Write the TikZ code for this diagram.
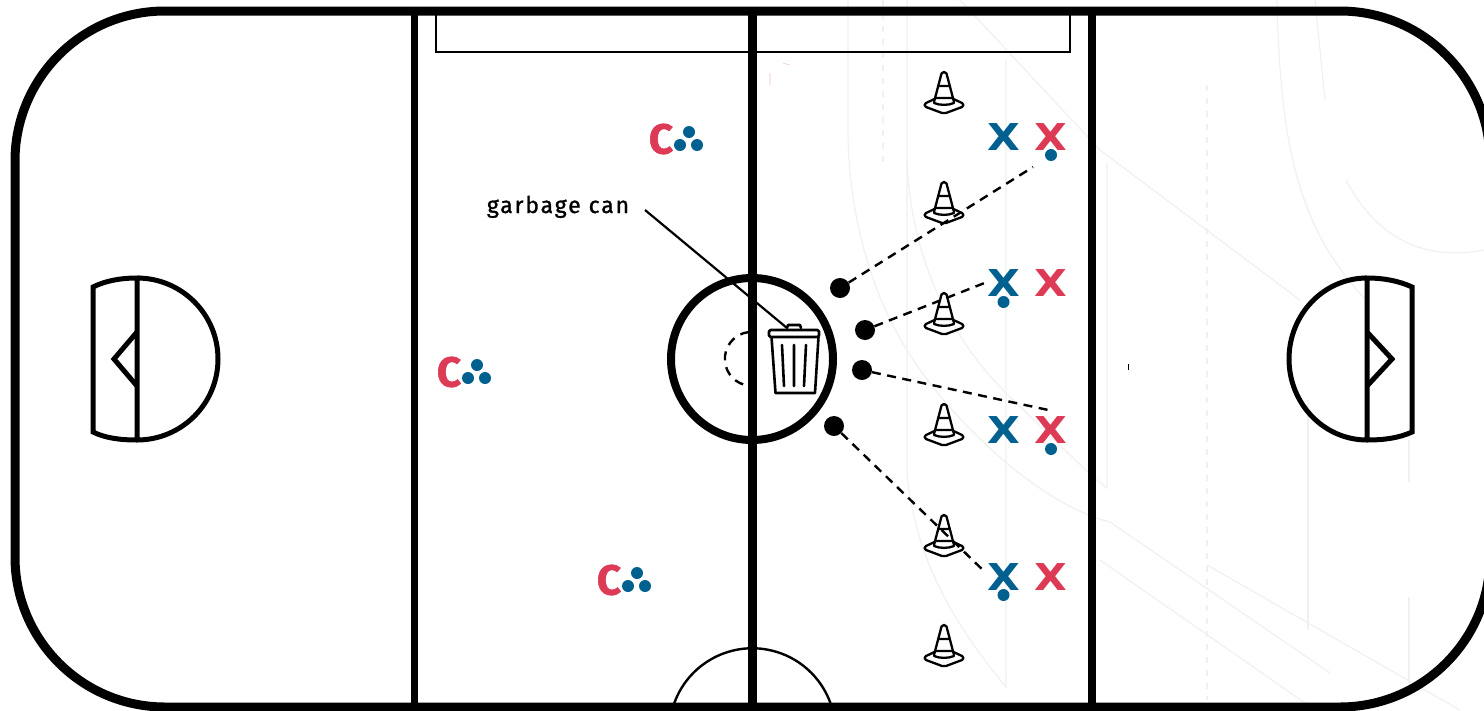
\documentclass[tikz,border=0pt]{standalone}
\usepackage{fontspec}
\setmainfont{Fira Sans}
\newfontfamily\xmarkfont{DejaVu Sans}
\newfontfamily\labfont[LetterSpace=8,FakeBold=1.2]{Fira Sans}
\newfontfamily\coachfont[FakeBold=1.5]{Fira Sans}
\usetikzlibrary{calc}
\definecolor{pblue}{HTML}{00608F}
\definecolor{pred}{HTML}{DC3A55}
\definecolor{faint}{HTML}{F0F0F0}
\tikzset{
  rinkline/.style={draw=black,line width=#1},
  faintline/.style={draw=faint,line width=1.2pt},
  faintdash/.style={draw=faint,line width=1.2pt,dash pattern=on 6pt off 7pt},
  playerx/.style={text=#1,inner sep=0pt,font=\xmarkfont\bfseries\fontsize{37}{37}\selectfont},
  coach/.style={text=pred,inner sep=0pt,font=\coachfont\bfseries\fontsize{42}{42}\selectfont},
  puck/.style={circle,fill=pblue,inner sep=0pt,minimum size=12pt},
  skater/.style={circle,fill=black,inner sep=0pt,minimum size=20pt},
  passline/.style={draw=black,line width=2.4pt,dash pattern=on 9pt off 6.5pt},
  conepic/.pic={
    \draw[black,line width=2.3pt,line join=round,line cap=round,fill=white]
      (-10,30) -- (-2.5,1.5) .. controls (-1.5,-.6) and (1.5,-.6) .. (2.5,1.5) -- (10,30);
    \draw[black,line width=2.3pt,line join=round,line cap=round]
      (-5.5,14) -- (5.5,14) (-8,26) -- (8,26)
      (-10,31) .. controls (-4,33.5) and (4,33.5) .. (10,31)
      (-9.5,27) -- (-18,31) .. controls (-20,32) and (-20,34) .. (-18,35) -- (-2,41) .. controls (-.5,41.5) and (.5,41.5) .. (2,41) -- (18,35) .. controls (20,34) and (20,32) .. (18,31) -- (9.5,27);
  }
}
\begin{document}
\begin{tikzpicture}[x=1pt,y=-1pt]
\useasboundingbox (0,0) rectangle (1484,710);
% faint background marks
\begin{scope}[faintline]
\draw (848,0) -- (848,130) .. controls (848,220) and (875,300) .. (907,350) .. controls (950,420) and (1040,505) .. (1110,522) -- (1330,673);
\draw (907,0) -- (907,473) .. controls (915,560) and (955,625) .. (1006,687) -- (1006,60);
\draw (907,163) .. controls (912,260) and (950,340) .. (1013,400) -- (1093,477) -- (1107,488) -- (1107,163);
\draw (960,0) -- (1100,150) -- (1300,300);
\draw (1277,0) .. controls (1280,150) and (1300,230) .. (1366,300);
\draw (1315,0) -- (1325,100);
\draw (1346,180) .. controls (1375,235) and (1420,262) .. (1484,250);
\draw (1100,560) -- (1315,710);
\draw (1207,565) -- (1460,710);
\draw (1308,400) -- (1308,630);
\draw (1409,440) -- (1409,482) (1409,597) -- (1409,690);
\end{scope}
\draw[faintdash] (1207,85) -- (1207,700);
\draw[faintdash] (883,0) -- (883,162);
% rink
\draw[rinkline=9pt] (165,11) -- (1340,11) arc[start angle=-90,end angle=0,radius=150] -- (1490,557) arc[start angle=0,end angle=90,radius=150] -- (165,707) arc[start angle=90,end angle=180,radius=150] -- (15,161) arc[start angle=180,end angle=270,radius=150] -- cycle;
\draw[rinkline=7pt] (414,11) -- (414,707);
\draw[rinkline=9pt] (752.5,11) -- (752.5,707);
\draw[rinkline=8pt] (1092,11) -- (1092,707);
\draw[rinkline=2.4pt] (436,11) -- (436,52) -- (1070,52) -- (1070,11);
\draw[rinkline=8pt] (752,359) circle[radius=81];
\draw[rinkline=2.4pt] (673,707) arc[start angle=197,end angle=343,radius=83];
\draw[black,line width=2.4pt,dash pattern=on 9pt off 7pt] (749,332) arc[start angle=-96,end angle=-264,radius=27];
% end zones
\draw[rinkline=5pt,line join=miter] (137,278) arc[start angle=-90,end angle=90,radius=81] .. controls (120,440) and (105,438) .. (93,432) -- (93,287) .. controls (105,281) and (120,278) .. (137,278) -- (137,440);
\draw[rinkline=5pt] (137,332) -- (114,359) -- (137,386);
\draw[rinkline=5pt,line join=miter] (1367,278) arc[start angle=-90,end angle=-270,x radius=78,y radius=81] .. controls (1384,440) and (1399,438) .. (1412,432) -- (1412,287) .. controls (1399,281) and (1384,278) .. (1367,278) -- (1367,440);
\draw[rinkline=5pt] (1367,332) -- (1392,359) -- (1367,386);
% cones
\foreach \nm/\cy in {1/72,2/182,3/293,4/404,5/515,6/625}
  \pic (cone\nm) at (944,\cy) {conepic};
% players
\node[playerx=pblue] (b1) at (1003.5,137) {\scalebox{1.15}[1]{X}};
\node[playerx=pred] (r1) at (1050.5,137) {\scalebox{1.15}[1]{X}};
\node[playerx=pblue] (b2) at (1003.5,283.5) {\scalebox{1.15}[1]{X}};
\node[playerx=pred] (r2) at (1050.5,283.5) {\scalebox{1.15}[1]{X}};
\node[playerx=pblue] (b3) at (1003.5,430) {\scalebox{1.15}[1]{X}};
\node[playerx=pred] (r3) at (1050.5,430) {\scalebox{1.15}[1]{X}};
\node[playerx=pblue] (b4) at (1003.5,577) {\scalebox{1.15}[1]{X}};
\node[playerx=pred] (r4) at (1050.5,577) {\scalebox{1.15}[1]{X}};
\node[puck] (p1) at (1051,155) {};
\node[puck] (p2) at (1003.5,302) {};
\node[puck] (p3) at (1051,449) {};
\node[puck] (p4) at (1003.5,595) {};
% skaters
\node[skater] (s1) at (840,288) {};
\node[skater] (s2) at (865,330) {};
\node[skater] (s3) at (862,370) {};
\node[skater] (s4) at (834,426) {};
\coordinate (e1) at (1033,167);
\coordinate (e2) at (987,282);
\coordinate (e3) at (1053,411);
\coordinate (e4) at (986,573);
\draw[passline] (s1) -- (e1);
\draw[passline] (s2) -- (e2);
\draw[passline] (s3) -- (e3);
\draw[passline] (s4) -- (e4);
% coaches with pucks
\foreach \nm/\px/\py in {a/661/139,b/449/372,c/609/580}{
  \node[coach] (c\nm) at (\px,\py) {C};
  \node[puck] (c\nm1) at (\px+28,\py-7) {};
  \node[puck] (c\nm2) at (\px+19,\py+6) {};
  \node[puck] (c\nm3) at (\px+36,\py+6) {};
}
% bin
\begin{scope}[line join=round,line width=2.6pt]
\draw[black,line cap=round] (787,328) -- (788,325) -- (800,325) -- (801,328);
\draw[black,rounded corners=1.5pt] (769,330) rectangle (819,337);
\draw[black] (771.5,337) -- (775.5,393) -- (815,393) -- (818.5,337);
\draw[black,line cap=round] (782,345) -- (784,386) (794,345) -- (794,386) (806,345) -- (804,386);
\end{scope}
\coordinate (bintop) at (787,328);
% label
\node[inner sep=0pt,font=\labfont\fontsize{23}{23}\selectfont,anchor=base] (lab) at (558,213) {garbage can};
\coordinate (labend) at (645,210);
\draw[black,line width=2.2pt] (labend) -- (bintop);
% stray marks
\fill[black] (1127.5,364) rectangle (1129,370);
\draw[pred!30,line width=.6pt] (770,73) -- (770,85) (783,63) -- (790,65);
\end{tikzpicture}
\end{document}
